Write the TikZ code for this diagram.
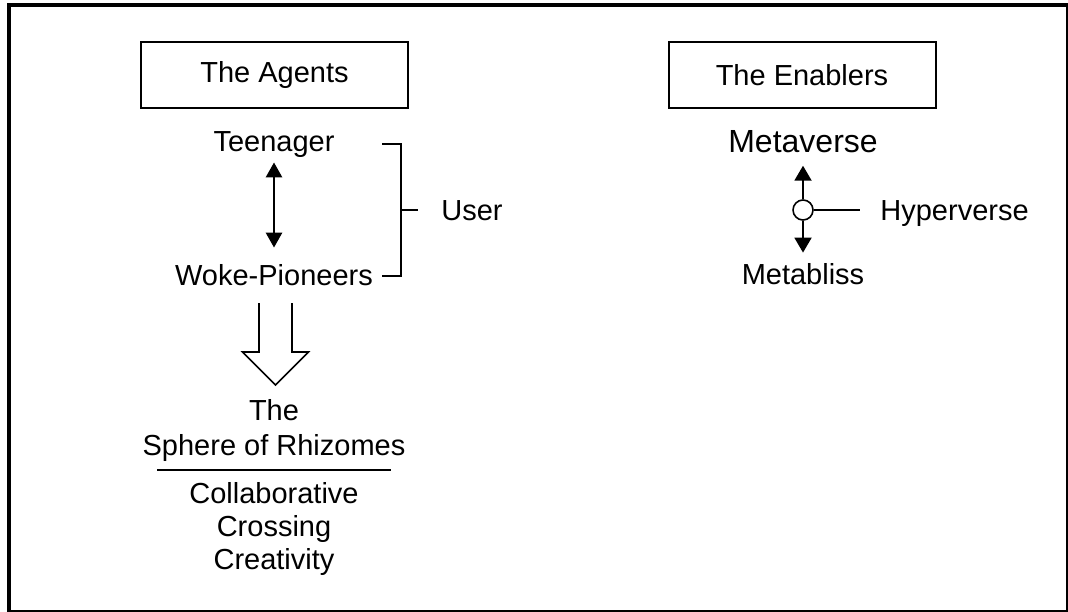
\documentclass[tikz,border=0pt]{standalone}
\usepackage{fontspec}
\setmainfont{Liberation Sans}
\usetikzlibrary{arrows.meta}

\tikzset{
  lbl/.style={font=\fontsize{14.5}{17}\selectfont, inner sep=0pt},
  headbox/.style={draw, line width=1pt, minimum width=133.5pt, minimum height=33pt,
    font=\fontsize{14.5}{17}\selectfont},
  hubdot/.style={circle, draw, fill=white, line width=0.8pt, minimum size=10pt, inner sep=0pt},
  tip/.style={-{Triangle[length=7.5pt, width=8.5pt]}},
}

\begin{document}
\begin{tikzpicture}[x=0.5pt, y=-0.5pt]
  \useasboundingbox (0,0) rectangle (1068,611);
  % outer frame
  \draw[line width=2pt] (9,4.5) rectangle (1067.5,611.5);

  % Left column: the agents
  \node[headbox] (agents) at (274.5,75) {The Agents};
  \node[lbl, anchor=base] (teen) at (274,151) {Teenager};
  \node[lbl, anchor=base] (woke) at (274,285) {Woke-Pioneers};
  \draw[{Triangle[length=7.5pt, width=8pt]}-{Triangle[length=7.5pt, width=8pt]}, line width=1.4pt,
    shorten <=2.5pt, shorten >=8pt] (teen.south) -- (woke.north);

  % bracket to User
  \coordinate (bt) at (382,144);
  \coordinate (bb) at (382,276);
  \coordinate (bm) at (401,210);
  \node[lbl, anchor=west] (user) at (441,211) {User};
  \draw[line width=0.8pt] (bt) -- ++(19,0) |- (bb);
  \draw[line width=0.8pt, shorten >=11.5pt] (bm) -- (bm -| user.west);

  % hollow arrow down to the sphere
  \coordinate (harrow) at (275.5,303);
  \draw[line width=0.8pt] (harrow) ++(-16.5,0) -- ++(0,49) -- ++(-16.5,0) -- ++(33,33)
    -- ++(33,-33) -- ++(-16.5,0) -- ++(0,-49);

  \node[lbl, anchor=base] (the) at (274,420) {The};
  \node[lbl, anchor=base] (sphere) at (274,455) {Sphere of Rhizomes};
  \coordinate (rl) at (157,470);
  \coordinate (rr) at (391,470);
  \draw[line width=0.8pt] (rl) -- (rr);
  \node[lbl, anchor=base] (collab) at (274,503) {Collaborative};
  \node[lbl, anchor=base] (cross) at (274,536) {Crossing};
  \node[lbl, anchor=base] (creat) at (274,569) {Creativity};

  % Right column: the enablers
  \node[headbox] (enablers) at (802,75) {The Enablers};
  \node[lbl, font=\fontsize{16}{19}\selectfont, anchor=base] (meta) at (803,152) {Metaverse};
  \node[hubdot] (hub) at (803,210) {};
  \node[lbl, anchor=base] (bliss) at (803,284) {Metabliss};
  \node[lbl, anchor=base west] (hyper) at (880,220) {Hyperverse};
  \draw[tip, line width=1pt, shorten >=6.5pt] (hub) -- (meta.south);
  \draw[tip, line width=1pt, shorten >=5pt] (hub) -- (bliss.north);
  \draw[line width=0.8pt, shorten >=10pt] (hub) -- (hub -| hyper.west);
\end{tikzpicture}
\end{document}
